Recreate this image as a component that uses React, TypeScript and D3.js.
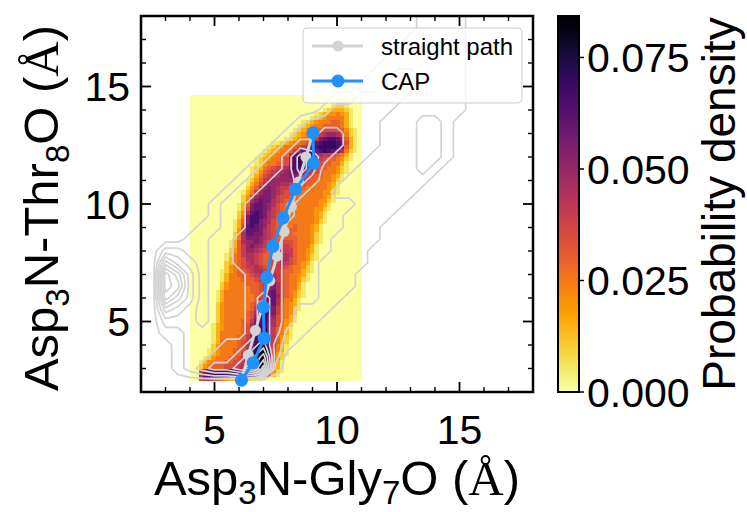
import React from "react";
import * as d3 from "d3";

const WIDTH = 747;
const HEIGHT = 512;
const frame = { left: 141, right: 533, top: 16, bottom: 392 };
const bar = { left: 558, right: 579, top: 16, bottom: 392 };

const xDomain = [2, 18];
const yDomain = [2, 18];
const majorTicks = [5, 10, 15];
const minorTicks = [3, 4, 6, 7, 8, 9, 11, 12, 13, 14, 16, 17];
const colorTicks = [0, 0.025, 0.05, 0.075];
const densityMax = 0.0843;

// sampled paths (Å)
const straightX = [6.1, 6.38, 6.67, 6.96, 7.26, 7.55, 7.84, 8.14, 8.43, 8.73, 9.02];
const straightY = [2.5, 3.57, 4.62, 5.67, 6.73, 7.78, 8.83, 9.89, 10.94, 12.0, 13.03];
const capX = [6.1, 6.58, 7.03, 6.99, 7.13, 7.38, 7.8, 8.31, 9.05, 9.02];
const capY = [2.5, 3.25, 4.29, 5.61, 6.88, 8.2, 9.41, 10.63, 11.73, 13.03];

// probability density histogram: rows listed top to bottom, [first column, codes]
const heatX = [4.0, 11.0];
const heatY = [2.47, 14.63];
const heatCols = 40;
const heatStep = 0.005;
const heatCodes = "0123456789ABCDEFGH";
const heatRows: [number, string][] = [
  [0, ""],
  [34, "111"],
  [33, "1221"],
  [31, "1233321"],
  [29, "123445431"],
  [28, "1234555531"],
  [26, "123455566531"],
  [25, "1234556666531"],
  [24, "123455677776421"],
  [23, "123455689AA98521"],
  [22, "12345568BCDDCB631"],
  [19, "1123455679CDEEEDC731"],
  [18, "123455678ACDEEEEDB631"],
  [17, "12345568ACDDCDEDCB9521"],
  [16, "12345569CDEDCA98876531"],
  [15, "12345567ADEEDB987665421"],
  [15, "12455667ADEDCA87665531"],
  [14, "123567889BDDCB976655421"],
  [14, "12467899ABCCB9876555421"],
  [14, "1357899AABBA9876655431"],
  [13, "124689AAAAA988766555421"],
  [13, "13579AAA99887766555431"],
  [13, "2469ABA988776655555431"],
  [12, "1358ABBA987766555554421"],
  [12, "247ABBBA87766555555431"],
  [12, "259BCBB987665555554421"],
  [11, "136BCCBA97665555555431"],
  [11, "137BCCBA87655555554421"],
  [11, "249CDCB98765555555431"],
  [11, "25BDDCB98665555555431"],
  [10, "136BDDBA97665555555421"],
  [10, "137CDCBA8765556555431"],
  [10, "148CCCB98765666555431"],
  [10, "259CCBB98766665555421"],
  [10, "259BBBA98766666555421"],
  [9, "1369AABA87667776555421"],
  [9, "1368ABA98766787655531"],
  [9, "2468AA987667888655431"],
  [8, "1256899876667898655421"],
  [8, "1356799876678997655421"],
  [8, "235678987667898765431"],
  [8, "245678898767887655421"],
  [7, "1245667899878876655321"],
  [7, "135566678998987655431"],
  [7, "135556667899A87655421"],
  [7, "245555666789B9765531"],
  [7, "24555556678AB9765531"],
  [6, "135555556678BC9765421"],
  [6, "135555555678BCA765421"],
  [6, "135555555689CC975531"],
  [6, "24555555679BCC965431"],
  [6, "2455555568ACDB865421"],
  [6, "2455555679CDDB86542"],
  [6, "245555567ADDCA76531"],
  [6, "245555668BDDC976431"],
  [5, "1345555679CDDB97542"],
  [5, "1345555679CDEB86531"],
  [5, "135555567ACEEB86531"],
  [5, "135555668ADEEB86421"],
  [5, "135555678BDFFC8642"],
  [5, "245555679BEGGC8531"],
  [4, "1245556679CEGHC7531"],
  [4, "134555668ACFHHC7421"],
  [3, "1245556678ADGHHB642"],
  [2, "13455566778BEGHGA631"],
  [2, "24566677889BEGGE9531"],
  [2, "8BCDDDDDDDDEEFEC7421"],
  [2, "9CDEEEDDDDDDDDCA631"],
  [2, "788765433222111"],
];

// straight-path sampling density on a 0.5 Å grid, rows top to bottom
const contourX0 = 2.0;
const contourY0 = 2.0;
const contourStep = 0.5;
const contourCols = 29;
const contourLevels = [0.5, 1.5, 2.5, 3.5, 4.5, 5.5, 6.5, 7.5, 8.5];
const contourRows: [number, string][] = [
  [23, "1111"],
  [23, "1111"],
  [22, "11111"],
  [21, "111111"],
  [20, "1111111"],
  [19, "11221111"],
  [18, "112221111"],
  [16, "11222211111"],
  [15, "122222111111"],
  [13, "1222222111221"],
  [12, "12233222111221"],
  [11, "123333222111221"],
  [10, "1235432221111221"],
  [9, "1223542221111121"],
  [8, "1223343221111111"],
  [7, "1223333221111111"],
  [6, "1223333222221111"],
  [6, "122333322221111"],
  [5, "112233322222111"],
  [4, "1122333322221111"],
  [2, "22112233332222111"],
  [2, "53212233332221111"],
  [2, "8631222333222111"],
  [2, "8731222333222111"],
  [2, "753122234322211"],
  [2, "43212223432111"],
  [2, "2221222343211"],
  [2, "112222234311"],
  [3, "1222334521"],
  [3, "122334572"],
  [3, "123445691"],
  [0, ""],
  [0, ""],
];

const SANS = "'Liberation Sans', Arial, Helvetica, sans-serif";
const SERIF = "'Liberation Serif', 'Times New Roman', serif";

export default function App() {
  const x = d3.scaleLinear().domain(xDomain).range([frame.left, frame.right]);
  const y = d3.scaleLinear().domain(yDomain).range([frame.bottom, frame.top]);
  const yc = d3.scaleLinear().domain([0, densityMax]).range([bar.bottom, bar.top]);
  const color = (v: number) =>
    d3.interpolateInferno(1 - Math.min(v, densityMax) / densityMax);

  // heatmap cells
  const nHeat = heatRows.length;
  const cw = (heatX[1] - heatX[0]) / heatCols;
  const chh = (heatY[1] - heatY[0]) / nHeat;
  const cells: JSX.Element[] = [];
  heatRows.forEach(([start, codes], k) => {
    const j = nHeat - 1 - k;
    for (let i = 0; i < heatCols; i++) {
      const idx = i - start;
      const code = idx >= 0 && idx < codes.length ? codes[idx] : "0";
      const v = heatCodes.indexOf(code) * heatStep;
      const x0 = x(heatX[0] + i * cw);
      const x1 = x(heatX[0] + (i + 1) * cw);
      const y0 = y(heatY[0] + (j + 1) * chh);
      const y1 = y(heatY[0] + j * chh);
      cells.push(
        <rect
          key={`h${k}-${i}`}
          x={x0}
          y={y0}
          width={x1 - x0 + 0.4}
          height={y1 - y0 + 0.4}
          fill={color(v)}
        />
      );
    }
  });

  // contour lines
  const nyC = contourRows.length;
  const grid = new Array(contourCols * nyC).fill(0);
  contourRows.forEach(([start, codes], k) => {
    const r = nyC - 1 - k;
    for (let t = 0; t < codes.length; t++) grid[r * contourCols + start + t] = +codes[t];
  });
  const polys = d3.contours().size([contourCols, nyC]).thresholds(contourLevels)(grid);
  const toData = (g: number, o: number) => o + contourStep * (g - 0.5);
  const proj = d3.geoTransform({
    point(px: number, py: number) {
      (this as any).stream.point(x(toData(px, contourX0)), y(toData(py, contourY0)));
    },
  });
  const contourPath = d3.geoPath(proj as any);

  const line = d3.line();
  const straightPts = straightX.map((v, i) => [x(v), y(straightY[i])] as [number, number]);
  const capPts = capX.map((v, i) => [x(v), y(capY[i])] as [number, number]);

  const gradStops = d3.range(0, 1.0001, 0.02);

  const tickLen = 10;
  const minorLen = 5;

  return (
    <svg
      width={WIDTH}
      height={HEIGHT}
      style={{ position: "absolute", left: 0, top: 0, background: "#fff" }}
      fontFamily={SANS}
    >
      <defs>
        <clipPath id="plotClip">
          <rect x={frame.left} y={frame.top} width={frame.right - frame.left} height={frame.bottom - frame.top} />
        </clipPath>
        <linearGradient id="cbarGrad" x1="0" y1="1" x2="0" y2="0">
          {gradStops.map((t) => (
            <stop key={t} offset={t} stopColor={color(t * densityMax)} />
          ))}
        </linearGradient>
      </defs>
      <rect x={0} y={0} width={WIDTH} height={HEIGHT} fill="#fff" />

      <g clipPath="url(#plotClip)">
        <g shapeRendering="crispEdges">{cells}</g>
        <g fill="none" stroke="#d3d3d3" strokeWidth={1.7} strokeLinejoin="round">
          {polys.map((p, i) => (
            <path key={i} d={contourPath(p as any) || ""} />
          ))}
        </g>
        <path d={line(straightPts) || ""} fill="none" stroke="#d3d3d3" strokeWidth={3} />
        {straightPts.map((p, i) => (
          <circle key={`s${i}`} cx={p[0]} cy={p[1]} r={5.5} fill="#d3d3d3" />
        ))}
        <path d={line(capPts) || ""} fill="none" stroke="#1e90ff" strokeWidth={3} />
        {capPts.map((p, i) => (
          <circle key={`c${i}`} cx={p[0]} cy={p[1]} r={6.5} fill="#1e90ff" />
        ))}
      </g>

      {/* ticks, inward on all four sides */}
      <g stroke="#000">
        {majorTicks.map((t) => (
          <g key={`M${t}`} strokeWidth={1.8}>
            <line x1={x(t)} x2={x(t)} y1={frame.bottom} y2={frame.bottom - tickLen} />
            <line x1={x(t)} x2={x(t)} y1={frame.top} y2={frame.top + tickLen} />
            <line y1={y(t)} y2={y(t)} x1={frame.left} x2={frame.left + tickLen} />
            <line y1={y(t)} y2={y(t)} x1={frame.right} x2={frame.right - tickLen} />
          </g>
        ))}
        {minorTicks.map((t) => (
          <g key={`m${t}`} strokeWidth={1.4}>
            <line x1={x(t)} x2={x(t)} y1={frame.bottom} y2={frame.bottom - minorLen} />
            <line x1={x(t)} x2={x(t)} y1={frame.top} y2={frame.top + minorLen} />
            <line y1={y(t)} y2={y(t)} x1={frame.left} x2={frame.left + minorLen} />
            <line y1={y(t)} y2={y(t)} x1={frame.right} x2={frame.right - minorLen} />
          </g>
        ))}
      </g>
      <rect
        x={frame.left}
        y={frame.top}
        width={frame.right - frame.left}
        height={frame.bottom - frame.top}
        fill="none"
        stroke="#000"
        strokeWidth={2.5}
      />

      {/* tick labels */}
      <g fontSize={41} fill="#000">
        {majorTicks.map((t) => (
          <text key={`xl${t}`} x={x(t)} y={444} textAnchor="middle">
            {t}
          </text>
        ))}
        {majorTicks.map((t) => (
          <text key={`yl${t}`} x={frame.left - 11} y={y(t)} dy="0.36em" textAnchor="end">
            {t}
          </text>
        ))}
      </g>

      {/* axis titles */}
      <text x={(frame.left + frame.right) / 2} y={495} textAnchor="middle" fontSize={49} fill="#000">
        Asp<tspan dy={9} fontSize={33}>3</tspan>
        <tspan dy={-9}>N-Gly</tspan>
        <tspan dy={9} fontSize={33}>7</tspan>
        <tspan dy={-9}>O (</tspan>
        <tspan fontFamily={SERIF}>Å</tspan>)
      </text>
      <text
        transform={`translate(58, ${(frame.top + frame.bottom) / 2 + 4}) rotate(-90)`}
        textAnchor="middle"
        fontSize={49}
        fill="#000"
      >
        Asp<tspan dy={11} fontSize={33}>3</tspan>
        <tspan dy={-11}>N-Thr</tspan>
        <tspan dy={11} fontSize={33}>8</tspan>
        <tspan dy={-11}>O (</tspan>
        <tspan fontFamily={SERIF}>Å</tspan>)
      </text>

      {/* legend */}
      <g>
        <rect x={303} y={28} width={219} height={75} rx={4} fill="#fff" fillOpacity={0.8} stroke="#cccccc" strokeWidth={1} />
        <line x1={312} x2={363} y1={46} y2={46} stroke="#d3d3d3" strokeWidth={3} />
        <circle cx={338} cy={46} r={5.5} fill="#d3d3d3" />
        <text x={381} y={55} fontSize={24} fill="#000">straight path</text>
        <line x1={312} x2={363} y1={81} y2={81} stroke="#1e90ff" strokeWidth={3} />
        <circle cx={338} cy={81} r={6.5} fill="#1e90ff" />
        <text x={381} y={90} fontSize={24} fill="#000">CAP</text>
      </g>

      {/* colorbar */}
      <rect x={bar.left} y={bar.top} width={bar.right - bar.left} height={bar.bottom - bar.top} fill="url(#cbarGrad)" />
      <rect
        x={bar.left}
        y={bar.top}
        width={bar.right - bar.left}
        height={bar.bottom - bar.top}
        fill="none"
        stroke="#000"
        strokeWidth={2}
      />
      {colorTicks.map((t) => (
        <g key={`ct${t}`}>
          <line x1={bar.right} x2={bar.right + 5} y1={yc(t)} y2={yc(t)} stroke="#000" strokeWidth={1.5} />
          <text x={bar.right + 8} y={yc(t)} dy="0.36em" fontSize={41} fill="#000">
            {t.toFixed(3)}
          </text>
        </g>
      ))}
      <text
        transform={`translate(735, ${(bar.top + bar.bottom) / 2}) rotate(-90)`}
        textAnchor="middle"
        fontSize={46}
        fill="#000"
      >
        Probability density
      </text>
    </svg>
  );
}
